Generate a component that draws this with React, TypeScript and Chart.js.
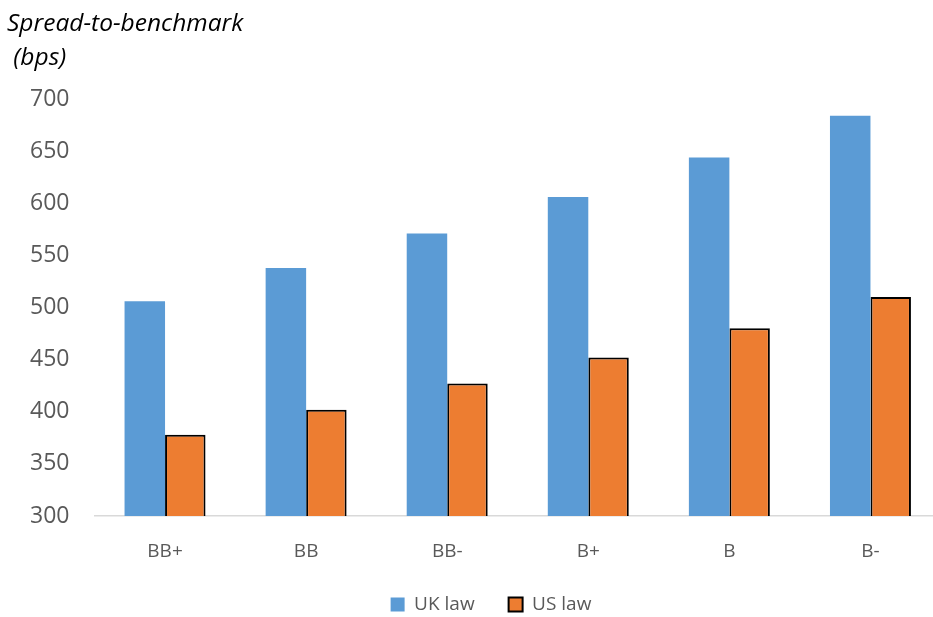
import React, { useEffect, useRef } from "react";
import { Chart, registerables } from "chart.js";

Chart.register(...registerables);

const categories = ["BB+", "BB", "BB-", "B+", "B", "B-"];
const ukLaw = [506, 538, 571, 606, 644, 684];
const usLaw = [378, 402, 427, 452, 480, 510];
const yTicks = [300, 350, 400, 450, 500, 550, 600, 650, 700];
const axisTitleLines = ["Spread-to-benchmark", " (bps)"];

const FONT = "'Open Sans', sans-serif";

const axisTitlePlugin = {
  id: "axisTitleText",
  afterLayout(chart: any) {
    // centre the legend on the full (uncropped) chart width
    if (chart.legend) {
      chart.legend.left = 0;
      chart.legend.right = 982;
      chart.legend.top += 3;
      chart.legend.bottom += 3;
    }
  },
  afterDraw(chart: any) {
    const ctx = chart.ctx;
    ctx.save();
    ctx.fillStyle = "#000000";
    ctx.font = `italic 24.5px ${FONT}`;
    ctx.textBaseline = "middle";
    ctx.textAlign = "left";
    ctx.fillText(axisTitleLines[0], 7, 24);
    ctx.fillText(axisTitleLines[1], 7, 58);
    ctx.restore();
  },
};

export default function App() {
  const ref = useRef<HTMLCanvasElement | null>(null);
  useEffect(() => {
    if (!ref.current) return;
    const chart = new Chart(ref.current, {
      type: "bar",
      data: {
        labels: categories,
        datasets: [
          {
            label: "UK law",
            data: ukLaw,
            backgroundColor: "#5B9BD5",
            borderWidth: 0,
          },
          {
            label: "US law",
            data: usLaw,
            backgroundColor: "#ED7D31",
            borderColor: "#000000",
            borderWidth: 2,
          },
        ],
      },
      options: {
        animation: false,
        responsive: false,
        devicePixelRatio: 1,
        layout: { padding: { top: 99, left: 0, right: 0, bottom: 0 } },
        datasets: {
          bar: { categoryPercentage: 0.574, barPercentage: 1 },
        },
        scales: {
          x: {
            afterFit(axis: any) {
              axis.height = 42;
            },
            grid: { display: false, drawTicks: false },
            border: { display: true, color: "#D9D9D9", width: 1.5 },
            ticks: {
              color: "#595959",
              font: { family: FONT, size: 19 },
              padding: 24,
            },
          },
          y: {
            min: 300,
            max: 700,
            afterBuildTicks(axis: any) {
              axis.ticks = yTicks.map((v) => ({ value: v }));
            },
            afterFit(axis: any) {
              axis.width = 94.5;
            },
            grid: { display: false, drawTicks: false },
            border: { display: false },
            ticks: {
              color: "#595959",
              font: { family: FONT, size: 23 },
              padding: 25,
            },
          },
        },
        plugins: {
          legend: {
            position: "bottom",
            maxHeight: 59,
            labels: {
              color: "#595959",
              font: { family: FONT, size: 19 },
              boxWidth: 14,
              boxHeight: 14,
              padding: 34,
              useBorderRadius: false,
            },
          },
          tooltip: { enabled: false },
          title: { display: false },
        },
      },
      plugins: [axisTitlePlugin],
    });
    return () => chart.destroy();
  }, []);
  return (
    <div
      style={{
        position: "fixed",
        left: 0,
        top: 0,
        width: 933,
        height: 617,
        overflow: "hidden",
        background: "#ffffff",
      }}
    >
      <canvas ref={ref} width={941} height={617} style={{ display: "block" }} />
    </div>
  );
}
